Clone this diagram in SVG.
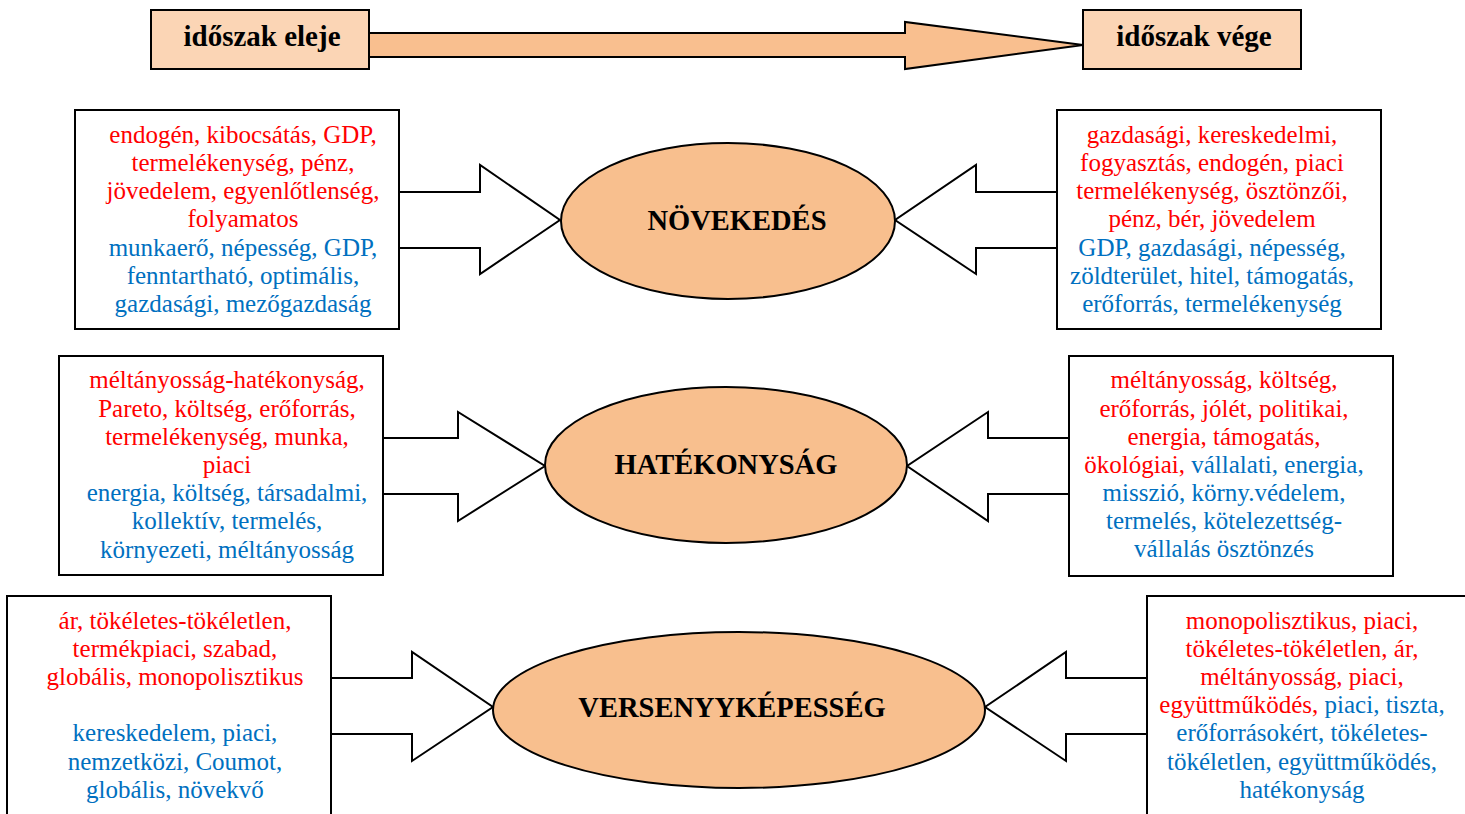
<svg xmlns="http://www.w3.org/2000/svg" width="1465" height="814" viewBox="0 0 1465 814">
<style>
.box{fill:#fff;stroke:#000;stroke-width:2}
.hdr{fill:#fbd5b5;stroke:#000;stroke-width:2}
.ell{fill:#f8bf8e;stroke:#000;stroke-width:2}
.blk{fill:#fff;stroke:#000;stroke-width:2;stroke-linejoin:miter}
.txt{font-family:"Liberation Serif",serif;font-size:25px;text-anchor:middle}
.r{fill:#ff0000}
.b{fill:#0070c0}
.ttl{font-family:"Liberation Serif",serif;font-weight:bold;font-size:28.5px;text-anchor:middle;fill:#000}
.htxt{font-family:"Liberation Serif",serif;font-weight:bold;font-size:29px;text-anchor:middle;fill:#000}
</style>
<rect width="1465" height="814" fill="#fff"/>
<g id="connectors">
<polygon points="369,33 905,33 905,22 1083,45 905,69 905,57 369,57" fill="#f9bf8f" stroke="#000" stroke-width="2"/>
<polygon class="blk" points="399,192 480,192 480,165 560,220 480,274 480,248 399,248"/>
<polygon class="blk" points="1057,192 976,192 976,165 895,220 976,274 976,248 1057,248"/>
<polygon class="blk" points="383,438 458,438 458,412 545,466 458,521 458,494 383,494"/>
<polygon class="blk" points="1069,438 988,438 988,412 907,466 988,521 988,494 1069,494"/>
<polygon class="blk" points="331,678 412,678 412,652 493,707 412,761 412,734 331,734"/>
<polygon class="blk" points="1147,678 1066,678 1066,652 985,707 1066,761 1066,734 1147,734"/>
</g>
<g id="start">
<rect class="hdr" x="151" y="10" width="218" height="59"/>
<text class="htxt" x="262" y="46">időszak eleje</text>
</g>
<g id="end">
<rect class="hdr" x="1083" y="10" width="218" height="59"/>
<text class="htxt" x="1194" y="46">időszak vége</text>
</g>
<g id="novekedes">
<ellipse class="ell" cx="728" cy="221" rx="167" ry="78"/>
<text class="ttl" x="737" y="230">NÖVEKEDÉS</text>
</g>
<g id="hatekonysag">
<ellipse class="ell" cx="726" cy="465" rx="181" ry="78"/>
<text class="ttl" x="726" y="474">HATÉKONYSÁG</text>
</g>
<g id="versenyykepesseg">
<ellipse class="ell" cx="739" cy="710" rx="246" ry="78"/>
<text class="ttl" x="732" y="717">VERSENYYKÉPESSÉG</text>
</g>
<g id="box-n-left">
<rect class="box" x="75" y="110" width="324" height="219"/>
<text class="txt r" x="243" y="143">endogén, kibocsátás, GDP,</text>
<text class="txt r" x="243" y="171">termelékenység, pénz,</text>
<text class="txt r" x="243" y="199">jövedelem, egyenlőtlenség,</text>
<text class="txt r" x="243" y="227">folyamatos</text>
<text class="txt b" x="243" y="256">munkaerő, népesség, GDP,</text>
<text class="txt b" x="243" y="284">fenntartható, optimális,</text>
<text class="txt b" x="243" y="312">gazdasági, mezőgazdaság</text>
</g>
<g id="box-n-right">
<rect class="box" x="1057" y="110" width="324" height="219"/>
<text class="txt r" x="1212" y="143">gazdasági, kereskedelmi,</text>
<text class="txt r" x="1212" y="171">fogyasztás, endogén, piaci</text>
<text class="txt r" x="1212" y="199">termelékenység, ösztönzői,</text>
<text class="txt r" x="1212" y="227">pénz, bér, jövedelem</text>
<text class="txt b" x="1212" y="256">GDP, gazdasági, népesség,</text>
<text class="txt b" x="1212" y="284">zöldterület, hitel, támogatás,</text>
<text class="txt b" x="1212" y="312">erőforrás, termelékenység</text>
</g>
<g id="box-h-left">
<rect class="box" x="59" y="356" width="324" height="219"/>
<text class="txt r" x="227" y="388">méltányosság-hatékonyság,</text>
<text class="txt r" x="227" y="417">Pareto, költség, erőforrás,</text>
<text class="txt r" x="227" y="445">termelékenység, munka,</text>
<text class="txt r" x="227" y="473">piaci</text>
<text class="txt b" x="227" y="501">energia, költség, társadalmi,</text>
<text class="txt b" x="227" y="529">kollektív, termelés,</text>
<text class="txt b" x="227" y="558">környezeti, méltányosság</text>
</g>
<g id="box-h-right">
<rect class="box" x="1069" y="356" width="324" height="220"/>
<text class="txt r" x="1224" y="388">méltányosság, költség,</text>
<text class="txt r" x="1224" y="417">erőforrás, jólét, politikai,</text>
<text class="txt r" x="1224" y="445">energia, támogatás,</text>
<text class="txt" x="1224" y="473"><tspan class="r">ökológiai,</tspan><tspan class="b"> vállalati, energia,</tspan></text>
<text class="txt b" x="1224" y="501">misszió, körny.védelem,</text>
<text class="txt b" x="1224" y="529">termelés, kötelezettség-</text>
<text class="txt b" x="1224" y="557">vállalás ösztönzés</text>
</g>
<g id="box-v-left">
<rect class="box" x="7" y="596" width="324" height="240"/>
<text class="txt r" x="175" y="629">ár, tökéletes-tökéletlen,</text>
<text class="txt r" x="175" y="657">termékpiaci, szabad,</text>
<text class="txt r" x="175" y="685">globális, monopolisztikus</text>
<text class="txt b" x="175" y="741">kereskedelem, piaci,</text>
<text class="txt b" x="175" y="770">nemzetközi, Coumot,</text>
<text class="txt b" x="175" y="798">globális, növekvő</text>
</g>
<g id="box-v-right">
<rect class="box" x="1147" y="596" width="340" height="240"/>
<text class="txt r" x="1302" y="629">monopolisztikus, piaci,</text>
<text class="txt r" x="1302" y="657">tökéletes-tökéletlen, ár,</text>
<text class="txt r" x="1302" y="685">méltányosság, piaci,</text>
<text class="txt" x="1302" y="713"><tspan class="r">együttműködés,</tspan><tspan class="b"> piaci, tiszta,</tspan></text>
<text class="txt b" x="1302" y="741">erőforrásokért, tökéletes-</text>
<text class="txt b" x="1302" y="770">tökéletlen, együttműködés,</text>
<text class="txt b" x="1302" y="798">hatékonyság</text>
</g>
</svg>
